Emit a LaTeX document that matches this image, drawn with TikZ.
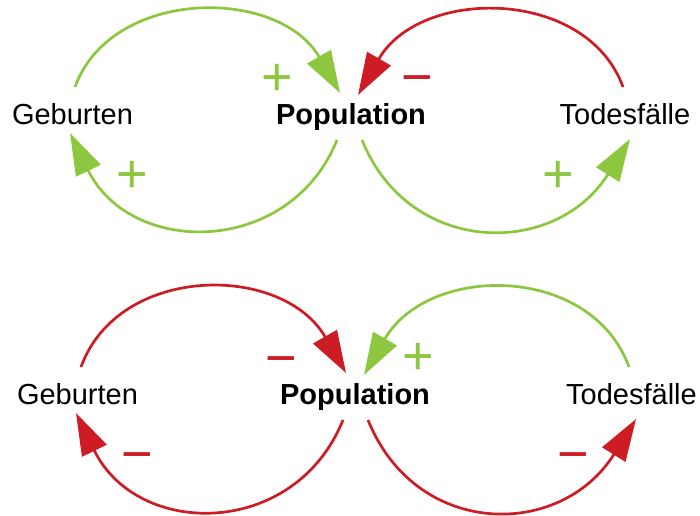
\documentclass[tikz,border=0pt]{standalone}
\usepackage{fontspec}
\setmainfont{Liberation Sans}
\usetikzlibrary{arrows.meta}

\definecolor{posgreen}{RGB}{141,198,63}
\definecolor{negred}{RGB}{206,28,36}

\tikzset{
  term/.style={font=\fontsize{29}{34}\selectfont, anchor=base, inner sep=0pt},
  polarity/.style={font=\fontsize{54}{60}\selectfont, anchor=base, inner sep=0pt},
  loopline/.style={line width=2.7pt, -{Triangle[length=42pt,width=27pt]}},
}

\begin{document}
\begin{tikzpicture}[x=1pt, y=1pt]
    \useasboundingbox (0,0) rectangle (700,515);

    % upper diagram
    \node[term] (gebTop) at (72.5,391) {Geburten};
    \node[term] (popTop) at (351,391) {\bfseries Population};
    \node[term] (todTop) at (625,391) {Todesfälle};

    \coordinate (gUpT) at (75,428);
    \coordinate (pUpLT) at (340,422);
    \coordinate (tUpT) at (623,428);
    \coordinate (pUpRT) at (358,420);
    \coordinate (pLoLT) at (337,375);
    \coordinate (gLoT) at (70,382);
    \coordinate (pLoRT) at (362,375);
    \coordinate (tLoT) at (630,376);

    \draw[loopline, posgreen] (gUpT) to[out=70, in=120, out distance=106pt, in distance=123pt] (pUpLT);
    \draw[loopline, negred] (tUpT) to[out=110, in=60, out distance=106pt, in distance=125pt] (pUpRT);
    \draw[loopline, posgreen] (pLoLT) to[out=248, in=296, out distance=126pt, in distance=138pt] (gLoT);
    \draw[loopline, posgreen] (pLoRT) to[out=292, in=238, out distance=126pt, in distance=140pt] (tLoT);

    \node[polarity, posgreen] (sUpLT) at (277,419) {+};
    \node[polarity, negred] (sUpRT) at (417,419) {−};
    \node[polarity, posgreen] (sLoLT) at (132,323) {+};
    \node[polarity, posgreen] (sLoRT) at (558,323) {+};

    % lower diagram
    \begin{scope}[shift={(6,-280)}]
    \node[term] (gebBot) at (71.5,391) {Geburten};
    \node[term] (popBot) at (349,391) {\bfseries Population};
    \node[term] (todBot) at (625.5,391) {Todesfälle};

    \coordinate (gUpB) at (75,428);
    \coordinate (pUpLB) at (340,422);
    \coordinate (tUpB) at (623,428);
    \coordinate (pUpRB) at (358,420);
    \coordinate (pLoLB) at (337,375);
    \coordinate (gLoB) at (70,382);
    \coordinate (pLoRB) at (362,375);
    \coordinate (tLoB) at (630,376);

    \draw[loopline, negred] (gUpB) to[out=70, in=120, out distance=110pt, in distance=127pt] (pUpLB);
    \draw[loopline, posgreen] (tUpB) to[out=110, in=60, out distance=110pt, in distance=129pt] (pUpRB);
    \draw[loopline, negred] (pLoLB) to[out=248, in=296, out distance=128pt, in distance=140pt] (gLoB);
    \draw[loopline, negred] (pLoRB) to[out=292, in=238, out distance=128pt, in distance=142pt] (tLoB);

    \node[polarity, negred] (sUpLB) at (275,419) {−};
    \node[polarity, posgreen] (sUpRB) at (412,421) {+};
    \node[polarity, negred] (sLoLB) at (131,323) {−};
    \node[polarity, negred] (sLoRB) at (567,323) {−};
    \end{scope}
\end{tikzpicture}
\end{document}
